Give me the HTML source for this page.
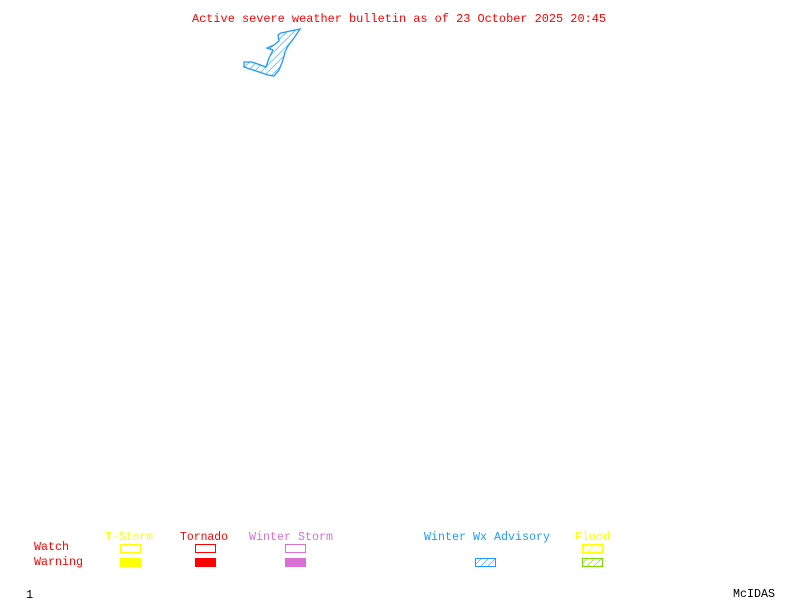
<!DOCTYPE html>
<html><head><meta charset="utf-8"><style>
html,body{margin:0;padding:0;background:#fff;}
svg{display:block}
text{font-family:"Liberation Mono","DejaVu Sans Mono",monospace;font-size:12px;}
</style></head><body>
<svg width="800" height="600" viewBox="0 0 800 600" xmlns="http://www.w3.org/2000/svg">
<defs>
<pattern id="hb" width="5" height="5" patternUnits="userSpaceOnUse" patternTransform="rotate(45)">
<line x1="0" y1="0" x2="0" y2="5" stroke="#1e9bff" stroke-width="1.2"/></pattern>
<pattern id="hy" width="5" height="5" patternUnits="userSpaceOnUse" patternTransform="rotate(45)">
<line x1="0" y1="0" x2="0" y2="5" stroke="#ffff00" stroke-width="1.2"/></pattern>
<pattern id="hg" width="5" height="5" patternUnits="userSpaceOnUse" patternTransform="rotate(45)">
<line x1="0" y1="0" x2="0" y2="5" stroke="#7cdc00" stroke-width="1.2"/></pattern>
</defs>
<text x="192" y="22" fill="#ff0000" textLength="414" lengthAdjust="spacingAndGlyphs">Active severe weather bulletin as of 23 October 2025 20:45</text>
<polygon points="281,33 300,29 294,38 288,46 285,52 283,60 279,70 274,76 268,75 244,67 244,62 252,62 266,67 269,58 273,50 267,48 274,45 279,41 278,35" fill="url(#hb)" stroke="#1e9bff" stroke-width="1.3"/>
<text x="105" y="540" fill="#ffff00" textLength="48" lengthAdjust="spacingAndGlyphs">T-Storm</text>
<text x="180" y="540" fill="#ff0000" textLength="48" lengthAdjust="spacingAndGlyphs">Tornado</text>
<text x="249" y="540" fill="#da70d6" textLength="84" lengthAdjust="spacingAndGlyphs">Winter Storm</text>
<text x="424" y="540" fill="#1e9bff" textLength="126" lengthAdjust="spacingAndGlyphs">Winter Wx Advisory</text>
<text x="575" y="540" fill="#ffff00" textLength="35" lengthAdjust="spacingAndGlyphs">Flood</text>
<text x="34" y="550" fill="#ff0000" textLength="35" lengthAdjust="spacingAndGlyphs">Watch</text>
<text x="34" y="565" fill="#ff0000" textLength="49" lengthAdjust="spacingAndGlyphs">Warning</text>
<rect x="120.5" y="544.5" width="20" height="8" fill="none" stroke="#ffff00"/>
<rect x="120" y="558" width="21" height="9" fill="#ffff00"/>
<rect x="195.5" y="544.5" width="20" height="8" fill="none" stroke="#ff0000"/>
<rect x="195" y="558" width="21" height="9" fill="#ff0000"/>
<rect x="285.5" y="544.5" width="20" height="8" fill="none" stroke="#da70d6"/>
<rect x="285" y="558" width="21" height="9" fill="#da70d6"/>
<rect x="475.5" y="558.5" width="20" height="8" fill="url(#hb)" stroke="#1e9bff"/>
<rect x="582.5" y="544.5" width="20" height="8" fill="url(#hy)" stroke="#ffff00"/>
<rect x="582.5" y="558.5" width="20" height="8" fill="url(#hg)" stroke="#7cdc00"/>
<text x="26" y="598" fill="#000">1</text>
<text x="733" y="597" fill="#000" textLength="42" lengthAdjust="spacingAndGlyphs">McIDAS</text>
</svg>
</body></html>
